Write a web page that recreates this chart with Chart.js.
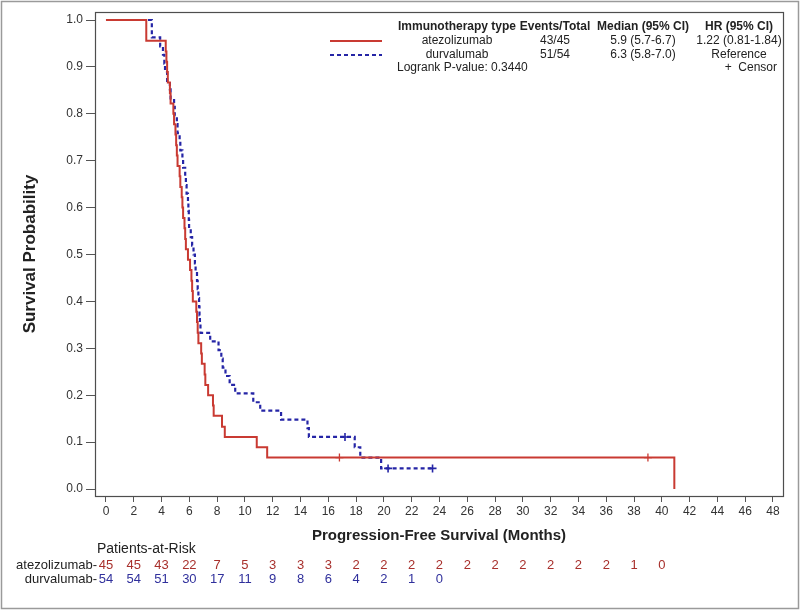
<!DOCTYPE html>
<html><head><meta charset="utf-8">
<script src="https://cdn.jsdelivr.net/npm/chart.js@4/dist/chart.umd.min.js"></script>
<style>html,body{margin:0;padding:0;background:#fff;} #wrap{width:800px;height:610px;position:relative;}</style>
</head><body><div id="wrap"><canvas id="c" width="800" height="610"></canvas></div>
<script>
const xTicks = [0,2,4,6,8,10,12,14,16,18,20,22,24,26,28,30,32,34,36,38,40,42,44,46,48];
const yTicks = [0,0.1,0.2,0.3,0.4,0.5,0.6,0.7,0.8,0.9,1.0];

const atezoTimes = [0,2.9,4.3,4.35,4.4,4.45,4.6,4.65,4.85,4.9,5.0,5.05,5.1,5.15,5.3,5.35,5.45,5.5,5.55,5.65,5.7,5.75,5.9,6.05,6.15,6.2,6.25,6.5,6.55,6.6,6.65,6.85,6.9,7.1,7.15,7.35,7.7,7.75,8.35,8.55,10.85,11.6,40.9];
const atezoSurv  = [1.0,0.956,0.933,0.911,0.889,0.867,0.844,0.822,0.800,0.778,0.756,0.733,0.711,0.689,0.667,0.644,0.622,0.600,0.578,0.556,0.533,0.511,0.489,0.467,0.444,0.422,0.400,0.378,0.356,0.333,0.311,0.289,0.267,0.244,0.222,0.200,0.178,0.156,0.133,0.111,0.089,0.067,0.0];

const durvaTimes = [0,3.3,3.9,4.1,4.2,4.25,4.4,4.6,4.65,4.9,4.95,5.1,5.15,5.3,5.35,5.5,5.55,5.7,5.75,5.8,5.9,5.93,5.96,5.98,6.1,6.2,6.3,6.4,6.45,6.55,6.6,6.65,6.7,6.73,6.76,6.8,7.5,8.1,8.3,8.4,8.6,8.9,9.3,10.6,11.1,12.6,14.5,14.6,17.9,18.3,19.8,23.5];
const durvaSurv  = [1.0,0.963,0.944,0.926,0.907,0.889,0.870,0.852,0.833,0.815,0.796,0.778,0.759,0.741,0.722,0.704,0.685,0.667,0.648,0.630,0.611,0.593,0.574,0.556,0.537,0.519,0.500,0.481,0.463,0.444,0.426,0.407,0.389,0.370,0.352,0.333,0.315,0.296,0.278,0.259,0.241,0.222,0.204,0.185,0.167,0.148,0.130,0.111,0.089,0.067,0.044,0.044];

const atezoCensorTimes = [16.8, 39.0];
const atezoCensorSurv  = [0.067, 0.067];
const durvaCensorTimes = [17.2, 20.3, 23.5];
const durvaCensorSurv  = [0.111, 0.044, 0.044];

const atezoRiskTimes = [0,2,4,6,8,10,12,14,16,18,20,22,24,26,28,30,32,34,36,38,40];
const atezoRisk = [45,45,43,22,7,5,3,3,3,2,2,2,2,2,2,2,2,2,2,1,0];
const durvaRiskTimes = [0,2,4,6,8,10,12,14,16,18,20,22,24];
const durvaRisk = [54,54,51,30,17,11,9,8,6,4,2,1,0];

const legendHeader = ['Immunotherapy type','Events/Total','Median (95% CI)','HR (95% CI)'];
const legendAtezo = ['atezolizumab','43/45','5.9 (5.7-6.7)','1.22 (0.81-1.84)'];
const legendDurva = ['durvalumab','51/54','6.3 (5.8-7.0)','Reference'];
const logrankText = 'Logrank P-value: 0.3440';

const RED = '#c93a32';
const BLUE = '#2525a6';
const RED_TXT = '#a8302c';
const BLUE_TXT = '#30309c';
const FONT = "'Liberation Sans', Arial, sans-serif";

const pts = (ts, ss) => ts.map((t,i)=>({x:t, y:ss[i]}));

const overlay = {
  id:'overlay',
  afterDraw(chart){
    const ctx = chart.ctx, a = chart.chartArea, xs = chart.scales.x;
    ctx.save();
    ctx.strokeStyle = '#9a9a9a'; ctx.lineWidth = 1.5;
    ctx.strokeRect(1.5,1.5,797,607);
    ctx.strokeStyle = '#4e4e4e'; ctx.lineWidth = 1.2;
    ctx.strokeRect(a.left+0.5, a.top+0.5, a.right-a.left, a.bottom-a.top);
    const cols = [457, 555, 643, 739];
    ctx.textBaseline = 'middle'; ctx.textAlign = 'center';
    ctx.fillStyle = '#222';
    ctx.font = 'bold 12px ' + FONT;
    legendHeader.forEach((t,i)=>ctx.fillText(t, cols[i], 27));
    ctx.font = '12px ' + FONT;
    legendAtezo.forEach((t,i)=>ctx.fillText(t, cols[i], 41));
    legendDurva.forEach((t,i)=>ctx.fillText(t, cols[i], 55));
    ctx.textAlign = 'left';
    ctx.fillText(logrankText, 397, 68);
    ctx.textAlign = 'right';
    ctx.fillText('+  Censor', 777, 68);
    ctx.lineWidth = 2;
    ctx.strokeStyle = RED; ctx.setLineDash([]);
    ctx.beginPath(); ctx.moveTo(330,41); ctx.lineTo(382,41); ctx.stroke();
    ctx.strokeStyle = BLUE; ctx.setLineDash([4,3]);
    ctx.beginPath(); ctx.moveTo(330,55); ctx.lineTo(382,55); ctx.stroke();
    ctx.setLineDash([]);
    ctx.fillStyle = '#222';
    ctx.textAlign = 'left';
    ctx.font = '14px ' + FONT;
    ctx.fillText('Patients-at-Risk', 97, 549);
    ctx.font = '13px ' + FONT;
    ctx.textAlign = 'right';
    ctx.fillText('atezolizumab-', 97, 565);
    ctx.fillText('durvalumab-', 97, 579);
    ctx.textAlign = 'center';
    ctx.fillStyle = RED_TXT;
    atezoRiskTimes.forEach((t,i)=>ctx.fillText(String(atezoRisk[i]), xs.getPixelForValue(t), 565));
    ctx.fillStyle = BLUE_TXT;
    durvaRiskTimes.forEach((t,i)=>ctx.fillText(String(durvaRisk[i]), xs.getPixelForValue(t), 579));
    ctx.restore();
  }
};

new Chart(document.getElementById('c'), {
  type:'line',
  data:{ datasets:[
    {label:'atezolizumab', data:pts(atezoTimes, atezoSurv), stepped:true, borderColor:RED, borderWidth:2, pointRadius:0, fill:false},
    {label:'durvalumab', data:pts(durvaTimes, durvaSurv), stepped:true, borderColor:BLUE, borderWidth:2.2, borderDash:[4,3], pointRadius:0, fill:false},
    {type:'scatter', label:'atezo censor', data:pts(atezoCensorTimes, atezoCensorSurv), pointStyle:'cross', pointRadius:4, borderColor:RED, borderWidth:1.3, showLine:false},
    {type:'scatter', label:'durva censor', data:pts(durvaCensorTimes, durvaCensorSurv), pointStyle:'cross', pointRadius:4, borderColor:BLUE, borderWidth:1.6, showLine:false}
  ]},
  options:{
    responsive:false, animation:false, devicePixelRatio:1,
    layout:{padding:{top:12, right:17, bottom:64, left:0}},
    plugins:{legend:{display:false}, tooltip:{enabled:false}},
    scales:{
      x:{type:'linear', min:-0.79, max:48.72,
        afterBuildTicks:ax=>{ax.ticks = xTicks.map(v=>({value:v}));},
        afterFit:s=>{s.height = 50;},
        ticks:{autoSkip:false, maxRotation:0, color:'#333', padding:2, font:{family:FONT, size:12}, callback:v=>String(v)},
        grid:{drawOnChartArea:false, drawTicks:true, tickLength:6, color:'#555'},
        border:{display:false},
        title:{display:true, text:'Progression-Free Survival (Months)', color:'#222', font:{family:FONT, size:15, weight:'bold'}, padding:{top:0, bottom:1}}
      },
      y:{type:'linear', min:-0.0149, max:1.0171,
        afterBuildTicks:ax=>{ax.ticks = yTicks.map(v=>({value:v}));},
        afterFit:s=>{s.width = 95;},
        ticks:{autoSkip:false, color:'#333', padding:3, font:{family:FONT, size:12}, callback:v=>Number(v).toFixed(1)},
        grid:{drawOnChartArea:false, drawTicks:true, tickLength:9, color:'#555'},
        border:{display:false},
        title:{display:true, text:'Survival Probability', color:'#222', font:{family:FONT, size:17, weight:'bold'}, padding:{top:20, bottom:0}}
      }
    }
  },
  plugins:[overlay]
});
</script>
</body></html>
